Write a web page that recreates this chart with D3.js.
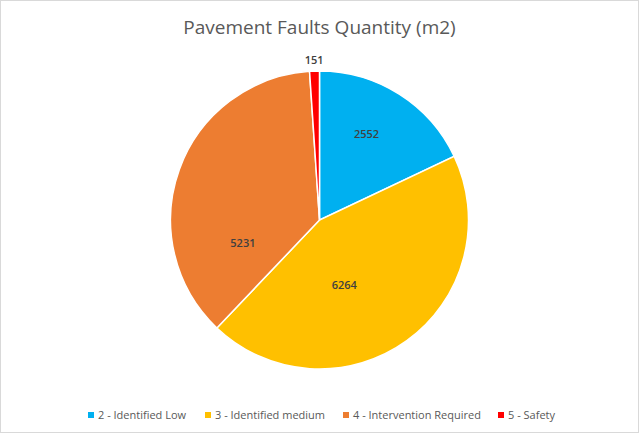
<!DOCTYPE html>
<html>
<head>
<meta charset="utf-8">
<script src="https://cdn.jsdelivr.net/npm/d3@7"></script>
<style>
  body { margin: 0; background: #fff; }
  svg { font-family: "Open Sans", "Noto Sans", sans-serif; }
</style>
</head>
<body>
<svg id="pieChart" width="639" height="433"></svg>
<script>
// chart data
let categories = ["2 - Identified Low", "3 - Identified medium", "4 - Intervention Required", "5 - Safety"];
let quantities = [2552, 6264, 5231, 151];
let sliceColours = ["#00B0F0", "#FFC000", "#ED7D31", "#FF0000"];

// layout: legend item x, and data label polar placement [angle rad, radius px]
let legendX = [91, 208, 346, 501];
let labelPolar = [[0.50, 98], [2.78, 70], [4.42, 80], [6.25, 160]];

let width = 639, height = 433;
let svg = d3.select("svg#pieChart");

/* outer frame */
svg.append("rect")
    .attr("x", 0.5).attr("y", 0.5)
    .attr("width", width - 1).attr("height", height - 1)
    .attr("fill", "#fff")
    .attr("stroke", "#d9d9d9");

/* title */
svg.append("text")
    .attr("x", width / 2).attr("y", 34)
    .attr("text-anchor", "middle")
    .attr("font-size", 19)
    .attr("fill", "#595959")
    .text("Pavement Faults Quantity (m2)");

let cx = 319.5, cy = 220, radius = 149;

let pie = d3.pie().sort(null).value(d => d);
let arc = d3.arc().innerRadius(0).outerRadius(radius);

let pieGroup = svg.append("g")
    .attr("transform", "translate(" + cx + "," + cy + ")");

let slices = pie(quantities);

pieGroup.selectAll("path.slice")
    .data(slices)
    .enter().append("path")
    .attr("class", "slice")
    .attr("d", arc)
    .attr("fill", (d, i) => sliceColours[i])
    .attr("stroke", "#fff")
    .attr("stroke-width", 1.5);

/* data labels (best-fit style placement like the original) */
pieGroup.selectAll("text.valueLabel")
    .data(slices)
    .enter().append("text")
    .attr("class", "valueLabel")
    .attr("transform", (d, i) => {
        let a = labelPolar[i][0], r = labelPolar[i][1];
        return "translate(" + (Math.sin(a) * r) + "," + (-Math.cos(a) * r) + ")";
    })
    .attr("text-anchor", "middle")
    .attr("dy", "0.35em")
    .attr("font-size", 11)
    .attr("font-weight", 600)
    .attr("fill", "#404040")
    .text(d => d.data);

/* legend */
let legend = svg.append("g").attr("class", "legend");
categories.forEach((name, i) => {
    let item = legend.append("g")
        .attr("transform", "translate(" + legendX[i] + ",415)");
    item.append("rect")
        .attr("x", -3).attr("y", -3)
        .attr("width", 6).attr("height", 6)
        .attr("fill", sliceColours[i]);
    item.append("text")
        .attr("x", 7).attr("dy", "0.35em")
        .attr("font-size", 11)
        .attr("fill", "#595959")
        .text(name);
});
</script>
</body>
</html>
